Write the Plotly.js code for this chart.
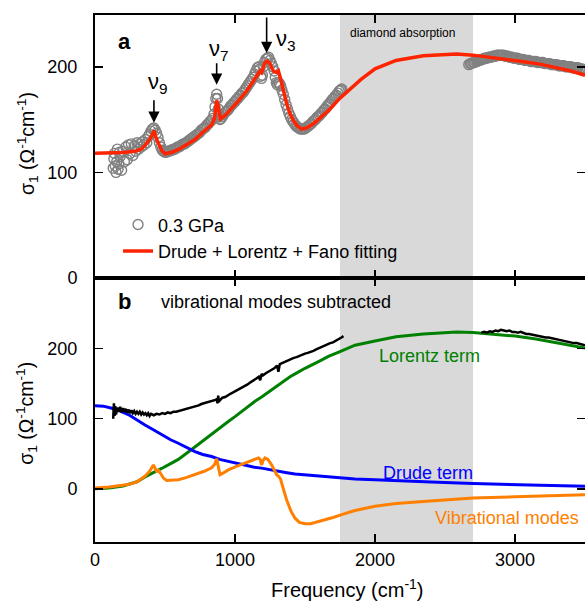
<!DOCTYPE html>
<html>
<head>
<meta charset="utf-8">
<script src="https://cdn.plot.ly/plotly-3.0.1.min.js"></script>
<style>
html,body{margin:0;padding:0;background:#fff;}
#chart{width:585px;height:603px;}
</style>
</head>
<body>
<div id="chart"></div>
<script>
// ---- Panel a: measured sigma_1 at 0.3 GPa (open circles) ----
const dataFreq = [130,135,140,145,150,155,160,165,170,175,180,190,200,210,220,230,240,250,260,270,280,290,300,310,320,330,340,350,360,370,380,390,400,410,420,430,440,450,460,470,480,490,
  500,510,520,530,540,550,560,570,580,590,600,610,620,630,640,650,660,670,680,690,700,710,720,730,740,750,760,770,780,790,800,810,820,830,840,850,857,863,869,875,881,887,893,
  900,910,920,930,940,950,960,970,980,990,1000,1010,1020,1030,1040,1050,1060,1070,1080,1090,1100,1110,1120,1130,1140,1150,1160,1170,1178,1184,1190,1196,1203,1210,1220,1230,1240,1250,1260,1270,1280,1288,1295,1302,1310,1318,
  1326,1335,1345,1355,1365,1375,1385,1395,1405,1415,1425,1435,1445,1455,1465,1475,1485,1495,1505,1515,1525,1535,1545,1555,1565,1575,1585,1595,1605,1615,1625,1635,1645,1655,1665,1675,1685,1695,1705,1715,1725,1735,1745,1755,1762,
  null,
  2670,2680,2690,2700,2710,2720,2730,2740,2750,2760,2770,2780,2790,2800,2810,2820,2830,2840,2850,2860,2870,2880,2890,2900,2910,2920,2930,2940,2950,2960,2970,2980,2990,
  3000,3010,3020,3030,3040,3050,3060,3070,3080,3090,3100,3110,3120,3130,3140,3150,3160,3170,3180,3190,3200,3210,3220,3230,3240,3250,3260,3270,3280,3290,3300,3310,3320,3330,3340,3350,3360,3370,3380,3390,3400,3410,3420,3430,3440,3450,3460,3470,3480,3490,3500,3510];
const dataSigma = [104,113,118,106,100,110,122,103,108,119,115,102,120,110,124,112,126,118,127,116,125,120,128,122,127,124,129,126,131,128,134,136,139,141,142,140,137,133,128,124,121,120,
  119,119,120,120,121,121,122,122,123,124,124,125,126,127,127,128,129,130,131,132,133,134,135,136,137,138,140,141,142,143,145,146,148,149,151,155,162,170,174,170,160,153,150,
  151,153,155,157,158,159,161,163,164,166,167,169,170,172,173,175,176,178,180,182,184,186,188,190,193,196,199,200,198,191,189,192,200,204,207,208,209,206,203,200,196,190,185,183,185,184,
  182,178,174,169,164,160,156,153,150,148,146,144,143,142,141,141,141,141,142,143,144,145,146,148,149,150,152,153,154,156,157,159,160,162,164,165,167,169,170,172,173,175,177,178,179,
  null,
  202,203,203,204,204,205,205,206,206,207,207,208,208,208,209,209,209,210,210,210,211,211,211,211,211,211,210,210,210,209,209,209,208,
  208,208,208,207,207,207,207,206,206,206,206,205,205,205,205,205,204,204,204,204,204,203,203,203,203,203,202,202,202,202,202,201,201,201,201,201,200,200,200,200,200,199,199,199,199,199,198,198,198,197,197,197];

// ---- Panel a: Drude + Lorentz + Fano fit ----
const fitFreq = [0,100,200,286,330,357,390,410,421,435,452,475,500,550,600,650,714,770,833,855,869,882,895,930,964,1020,1083,1130,1160,1179,1190,1200,1214,1230,1250,1262,1280,1298,1310,1321,1345,1369,1395,1417,1445,1476,1510,1560,1620,1679,1740,1798,1900,2000,2150,2345,2500,2583,2700,2800,2940,3050,3179,3300,3400,3500];
const fitSigma = [118,118.3,118.8,120,122,125.5,131,136,139.6,133,128.6,121,117.6,119,122,126,131,138,145,152,168,162,150.6,154,158.5,167,177,186,193,196,194.5,198,204,205.5,203,199,195,194.6,196,191,178,165,155,149,144,141,142,146,153,160,169,176,188,198,206,210.5,212,212,211,209.5,207,205,202.5,199,196,192];

// ---- Panel b: vibrational modes subtracted (black) ----
const subFreq = [130,135,140,145,150,160,170,180,190,200,210,220,230,240,250,260,270,280,290,300,310,320,330,340,350,360,370,380,390,400,420,440,460,480,500,520,540,560,580,600,620,640,660,680,700,720,740,760,780,800,820,840,860,870,875,880,885,890,910,930,950,970,990,1010,1030,1050,1070,1090,1110,1130,1150,1170,1180,1190,1200,1220,1240,1260,1280,1300,1310,1320,1340,1360,1380,1400,1420,1440,1460,1480,1500,1520,1540,1560,1580,1600,1620,1640,1660,1680,1700,1720,1740,1760,1775,
  null,
  2760,2780,2800,2820,2840,2860,2880,2900,2920,2940,2960,2980,3000,3020,3040,3060,3080,3100,3120,3140,3160,3180,3200,3220,3240,3260,3280,3300,3320,3340,3360,3380,3400,3420,3440,3460,3480,3500];
const subSigma = [100,122,104,118,106,116,110,117,109,115,110,114,109,113,108,112,108,111,107,110,107,110,106,109,106,108,105,108,104,107,105,107,106,108,107,109,108,110,110,111,112,113,114,115,117,118,119,121,122,123,125,126,127,128,122,133,124,126,130,131,134,136,138,140,142,145,147,149,152,154,157,160,155,164,162,165,167,170,172,176,167,178,180,182,184,185,187,188,190,192,193,194,195,197,199,201,202,204,206,208,209,211,213,216,218,
  null,
  223,224,223,225,224,226,225,227,226,225,226,224,224,223,224,222,221,221,220,219,219,218,217,216,216,215,214,213,213,212,211,210,209,208,208,207,206,205];

// ---- Panel b: Lorentz term (green) ----
const lorFreq = [0,100,200,300,357,400,476,550,595,690,760,833,900,952,1000,1071,1143,1190,1300,1393,1429,1500,1600,1667,1750,1857,2000,2150,2345,2500,2583,2700,2850,3000,3150,3295,3400,3500];
const lorSigma = [0,1,4,10,17,21,29,37,42,56,67,78,88,96,103,114,125,131,147,160,164,172,182,189,196,205,211,217,221,223.5,224,223,221,218,214,209,205,201];

// ---- Panel b: Drude term (blue) ----
const drudeFreq = [0,60,120,180,238,300,357,420,476,540,595,650,714,770,833,890,952,1010,1071,1130,1190,1250,1310,1370,1429,1550,1667,1760,1857,2000,2200,2400,2700,3000,3250,3500];
const drudeSigma = [118.5,118,115,111,106,98,91,84,77,70,65,59,53,49,46,42,39,36,33,31,29.5,27,25,23,21,19,16.7,15,14,13,11,9.5,7.5,6,4.5,3.5];

// ---- Panel b: Vibrational modes (orange) ----
const vibFreq = [0,100,238,300,357,390,417,430,440,455,470,490,512,550,595,650,714,780,833,855,869,880,893,920,952,1010,1071,1120,1167,1180,1190,1200,1214,1235,1262,1285,1298,1310,1325,1345,1369,1400,1429,1460,1500,1540,1580,1619,1700,1762,1857,2000,2150,2345,2500,2700,3000,3250,3500];
const vibSigma = [1,2.5,6,10,18,25,34,29,25,26,22,15,12,12,13,16,20,25,30,35,43,32,20,23,27,32,37,41,44,42,34,40,44,42,34,25,20,18,14,0,-16,-32,-42,-48,-50,-50,-48,-46,-41,-37,-31,-25,-21,-18,-15.5,-13,-11.5,-10,-8.5];

// ---- axis ticks / labels ----
const xTicks = [0,1000,2000,3000];
const yTicksA = [0,100,200];
const yTicksB = [0,100,200];

const FONT = 'Liberation Sans, Arial, Helvetica, sans-serif';

const traces = [
  {x: dataFreq, y: dataSigma, xaxis:'x2', yaxis:'y2', type:'scatter', mode:'markers',
   name:'0.3 GPa',
   marker:{symbol:'circle-open', size:10, color:'rgb(128,128,128)', line:{width:1.4, color:'rgb(128,128,128)'}}},
  {x: fitFreq, y: fitSigma, xaxis:'x2', yaxis:'y2', type:'scatter', mode:'lines',
   name:'Drude + Lorentz + Fano fitting',
   line:{color:'#ff2400', width:3.5}},
  {x: lorFreq, y: lorSigma, xaxis:'x', yaxis:'y', type:'scatter', mode:'lines', showlegend:false,
   line:{color:'#008000', width:3}},
  {x: drudeFreq, y: drudeSigma, xaxis:'x', yaxis:'y', type:'scatter', mode:'lines', showlegend:false,
   line:{color:'#0000ff', width:3}},
  {x: vibFreq, y: vibSigma, xaxis:'x', yaxis:'y', type:'scatter', mode:'lines', showlegend:false,
   line:{color:'#ff8000', width:3}},
  {x: subFreq, y: subSigma, xaxis:'x', yaxis:'y', type:'scatter', mode:'lines', showlegend:false,
   connectgaps:false, line:{color:'#000000', width:2.5}}
];

const axisCommon = {
  showline:true, linewidth:2, linecolor:'#000', mirror:'ticks',
  ticks:'inside', ticklen:8, tickwidth:1.5, tickcolor:'#000',
  showgrid:false, zeroline:false,
  tickfont:{family:FONT, size:18, color:'#000'}
};

const annFont = (size, color) => ({family:FONT, size:size, color:color||'#000'});

const layout = {
  width:585, height:603,
  margin:{l:95, r:0, t:15, b:61},
  paper_bgcolor:'#fff', plot_bgcolor:'rgba(0,0,0,0)',
  showlegend:true,
  legend:{x:0.047, y:0.637, xanchor:'left', yanchor:'top', bgcolor:'rgba(0,0,0,0)',
          font:{family:FONT, size:18, color:'#000'}, tracegroupgap:0},
  xaxis:Object.assign({}, axisCommon, {domain:[0,1], range:[0,3500], anchor:'y',
          tickmode:'array', tickvals:xTicks, ticktext:xTicks.map(String), ticklabelstandoff:0}),
  xaxis2:Object.assign({}, axisCommon, {domain:[0,1], range:[0,3500], anchor:'y2', matches:'x',
          tickmode:'array', tickvals:xTicks, showticklabels:false}),
  yaxis:Object.assign({}, axisCommon, {domain:[0,0.501], range:[-76,301], anchor:'x',
          tickmode:'array', tickvals:yTicksB, ticktext:yTicksB.map(String), ticklabelstandoff:12}),
  yaxis2:Object.assign({}, axisCommon, {domain:[0.501,1], range:[0,249], anchor:'x2',
          tickmode:'array', tickvals:yTicksA, ticktext:yTicksA.map(String), ticklabelstandoff:12}),
  shapes:[
    {type:'rect', xref:'x', yref:'paper', x0:1750, x1:2700, y0:0, y1:1,
     fillcolor:'#d9d9d9', line:{width:0}, layer:'below'}
  ],
  annotations:[
    // panel labels
    {xref:'x2', yref:'y2', x:214, y:224, text:'<b>a</b>', showarrow:false, font:annFont(22)},
    {xref:'x', yref:'y', x:214, y:267, text:'<b>b</b>', showarrow:false, font:annFont(22)},
    {xref:'x', yref:'y', x:457, y:267, text:'vibrational modes subtracted', xanchor:'left', showarrow:false, font:annFont(18)},
    {xref:'x2', yref:'y2', x:2193, y:232, text:'diamond absorption', showarrow:false, font:annFont(12)},
    // mode labels
    {xref:'x2', yref:'y2', x:450, y:185, text:'ν<sub>9</sub>', showarrow:false, font:annFont(22)},
    {xref:'x2', yref:'y2', x:889, y:216, text:'ν<sub>7</sub>', showarrow:false, font:annFont(22)},
    {xref:'x2', yref:'y2', x:1364, y:225, text:'ν<sub>3</sub>', showarrow:false, font:annFont(22)},
    // arrows
    {xref:'x2', yref:'y2', x:421, y:147, ax:0, ay:-24, text:'', showarrow:true, arrowhead:2, arrowsize:1.4, arrowwidth:1.6, arrowcolor:'#000', standoff:0},
    {xref:'x2', yref:'y2', x:869, y:183, ax:0, ay:-23, text:'', showarrow:true, arrowhead:2, arrowsize:1.4, arrowwidth:1.6, arrowcolor:'#000', standoff:0},
    {xref:'x2', yref:'y2', x:1226, y:213, ax:0, ay:-37, text:'', showarrow:true, arrowhead:2, arrowsize:1.4, arrowwidth:1.6, arrowcolor:'#000', standoff:0},
    // component labels
    {xref:'x', yref:'y', x:2386, y:190, text:'Lorentz term', showarrow:false, font:annFont(18,'#008000')},
    {xref:'x', yref:'y', x:2379, y:23, text:'Drude term', showarrow:false, font:annFont(18,'#0000ff')},
    {xref:'x', yref:'y', x:2940, y:-42, text:'Vibrational modes', showarrow:false, font:annFont(18,'#ff8000')},
    // axis titles
    {xref:'paper', yref:'paper', x:-0.139, y:0.757, xanchor:'center', yanchor:'middle', text:'σ<sub>1</sub> (Ω<sup>-1</sup>cm<sup>-1</sup>)', textangle:-90, showarrow:false, font:annFont(19.5)},
    {xref:'paper', yref:'paper', x:-0.139, y:0.245, xanchor:'center', yanchor:'middle', text:'σ<sub>1</sub> (Ω<sup>-1</sup>cm<sup>-1</sup>)', textangle:-90, showarrow:false, font:annFont(19.5)},
    {xref:'paper', yref:'paper', x:0.516, y:-0.089, xanchor:'center', yanchor:'middle', text:'Frequency (cm<sup>-1</sup>)', showarrow:false, font:annFont(20)}
  ]
};

Plotly.newPlot('chart', traces, layout, {displayModeBar:false, staticPlot:true});
</script>
</body>
</html>
